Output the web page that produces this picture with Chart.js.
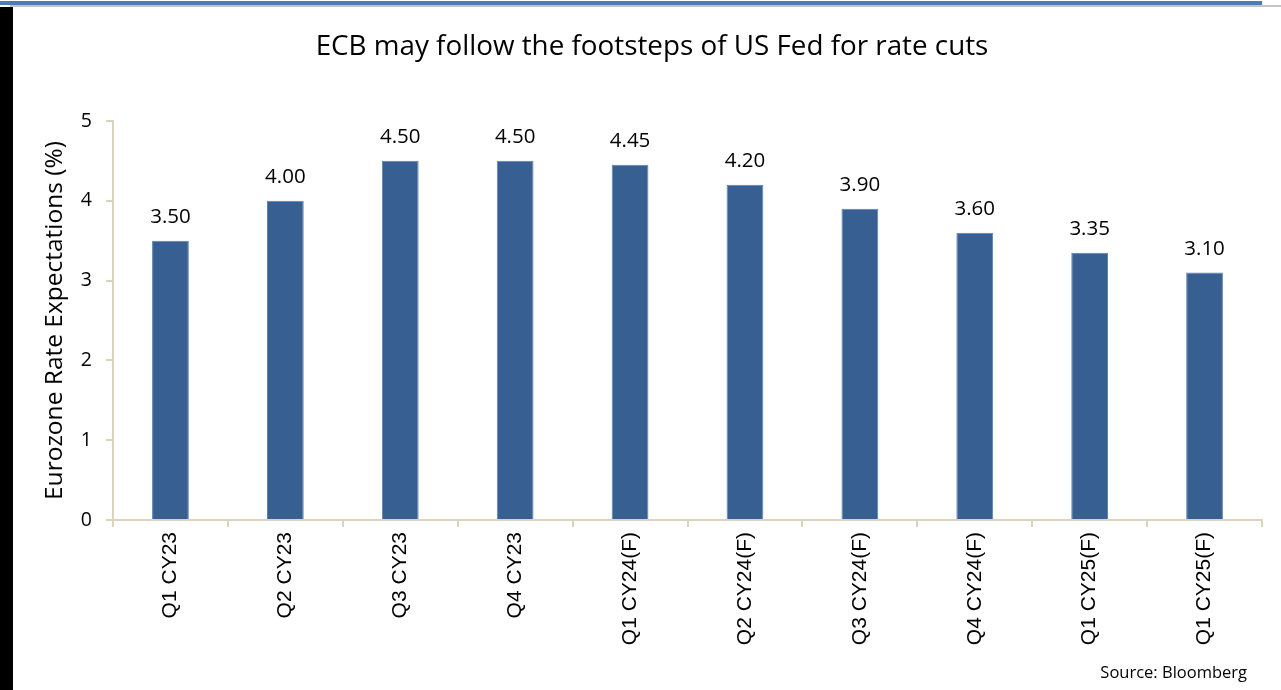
<!DOCTYPE html>
<html>
<head>
<meta charset="utf-8">
<script src="https://cdn.jsdelivr.net/npm/chart.js@4"></script>
<style>
  html, body { margin: 0; padding: 0; background: #fff; overflow: hidden; }
  #wrap { position: relative; width: 1281px; height: 690px; }
  #rateChart { position: absolute; left: 0; top: 0; }
  .band-blue { position: absolute; left: 0; top: 1px; width: 1262px; height: 4px; background: #4a7ebb; }
  .band-grey { position: absolute; left: 10px; top: 5px; width: 1271px; height: 2px; background: #c4c4c4; }
  .side-bar { position: absolute; left: 0; top: 7px; width: 13px; height: 683px; background: #000; }
  .source { position: absolute; right: 34px; top: 660px; font: 16.5px "Open Sans", sans-serif; color: #000; }
</style>
</head>
<body>
<div id="wrap">
  <canvas id="rateChart" width="1281" height="690"></canvas>
  <div class="band-blue"></div>
  <div class="band-grey"></div>
  <div class="side-bar"></div>
  <div class="source">Source: Bloomberg</div>
</div>
<script>
// quarters on the x axis
const quarters = ["Q1 CY23", "Q2 CY23", "Q3 CY23", "Q4 CY23", "Q1 CY24(F)",
                  "Q2 CY24(F)", "Q3 CY24(F)", "Q4 CY24(F)", "Q1 CY25(F)", "Q1 CY25(F)"];
// eurozone policy rate expectations, %
const rates = [3.50, 4.00, 4.50, 4.50, 4.45, 4.20, 3.90, 3.60, 3.35, 3.10];
const yTicks = [0, 1, 2, 3, 4, 5];

const axisColor = '#d9d4bc';

// writes the value above each bar
const valueLabels = {
    id: 'valueLabels',
    afterDatasetsDraw(chart) {
        const ctx = chart.ctx;
        const meta = chart.getDatasetMeta(0);
        ctx.save();
        ctx.font = '20.5px "Open Sans", sans-serif';
        ctx.fillStyle = '#000';
        ctx.textAlign = 'center';
        ctx.textBaseline = 'bottom';
        meta.data.forEach((bar, i) => {
            ctx.fillText(rates[i].toFixed(2), bar.x, bar.y - 13);
        });
        ctx.restore();
    }
};

new Chart(document.getElementById('rateChart'), {
    type: 'bar',
    data: {
        labels: quarters,
        datasets: [{
            data: rates,
            backgroundColor: '#375f91',
            borderColor: '#5b80ad',
            borderWidth: 1,
            categoryPercentage: 1.0,
            barPercentage: 0.32
        }]
    },
    options: {
        responsive: false,
        animation: false,
        // left padding shifts the title centre to the right of the canvas centre
        layout: { padding: { left: 42, right: 19, top: 0, bottom: 0 } },
        plugins: {
            legend: { display: false },
            tooltip: { enabled: false },
            title: {
                display: true,
                text: 'ECB may follow the footsteps of US Fed for rate cuts',
                color: '#000',
                font: { family: '"Open Sans", sans-serif', size: 27.8, weight: 'normal' },
                padding: { top: 30, bottom: 57.6 }
            }
        },
        scales: {
            x: {
                grid: {
                    offset: true,
                    drawOnChartArea: false,
                    drawTicks: true,
                    tickLength: 7,
                    color: axisColor,
                    lineWidth: 2
                },
                border: { color: axisColor, width: 2 },
                ticks: {
                    color: '#000',
                    font: { family: '"Liberation Sans", Arial, sans-serif', size: 21 },
                    minRotation: 90,
                    maxRotation: 90,
                    autoSkip: false,
                    padding: 5
                },
                afterFit(scale) { scale.height = 170; }
            },
            y: {
                min: 0,
                max: 5,
                afterBuildTicks(scale) { scale.ticks = yTicks.map(v => ({ value: v })); },
                grid: {
                    drawOnChartArea: false,
                    drawTicks: true,
                    tickLength: 7,
                    color: axisColor,
                    lineWidth: 2
                },
                border: { color: axisColor, width: 2 },
                ticks: {
                    color: '#000',
                    font: { family: '"Open Sans", sans-serif', size: 19.5 },
                    padding: 14
                },
                title: {
                    display: true,
                    text: 'Eurozone Rate Expectations (%)',
                    color: '#000',
                    font: { family: '"Open Sans", sans-serif', size: 24.5, lineHeight: 1.1 },
                    padding: { top: 0, bottom: 0 }
                },
                afterFit(scale) { scale.width = 71; }
            }
        }
    },
    plugins: [valueLabels]
});
</script>
</body>
</html>
